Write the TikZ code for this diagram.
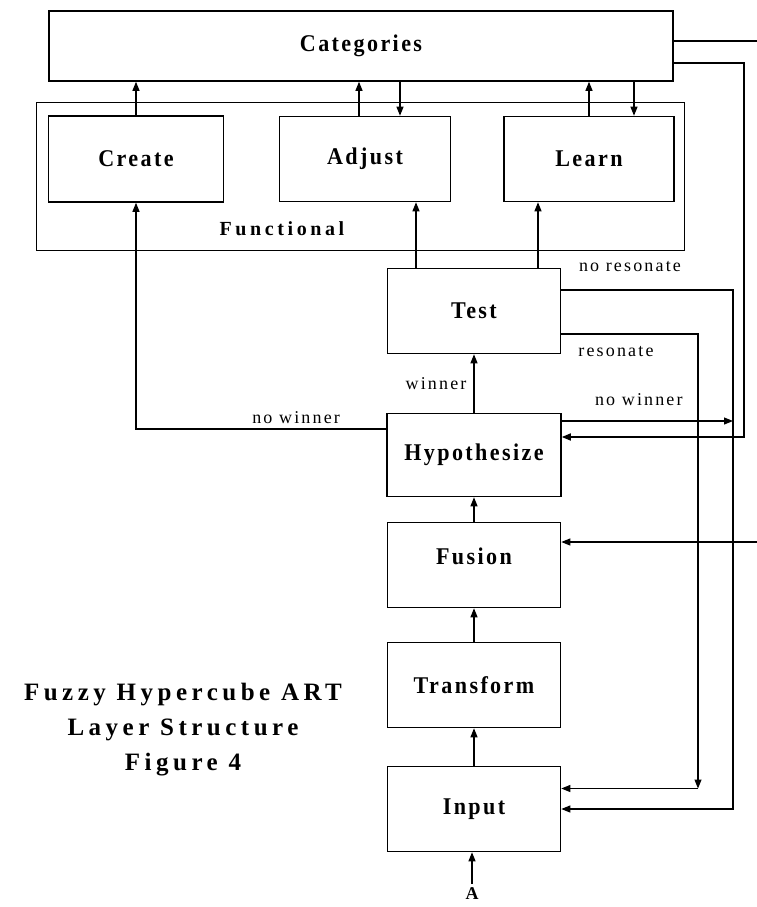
\documentclass[tikz,border=0pt]{standalone}
\usepackage{fontspec}
\setmainfont{Liberation Serif}
\newfontfamily\layerfont[FakeStretch=0.92,LetterSpace=10]{Liberation Serif}
\newfontfamily\titlefont[LetterSpace=18]{Liberation Serif}
\newfontfamily\labelfont[LetterSpace=12]{Liberation Serif}
\usetikzlibrary{arrows.meta, positioning}

\begin{document}
\begin{tikzpicture}[->, >={Triangle[length=9pt,width=7pt]}, x=1pt, y=1pt, on grid, line width=1.1pt]
      \tikzstyle{layer}=[draw, line width=1.6pt, minimum width=173pt, minimum height=85pt, inner sep=0pt, font=\layerfont\bfseries\fontsize{24}{28}\selectfont]
      \tikzstyle{tag}=[inner sep=0pt, font=\labelfont\fontsize{18}{22}\selectfont]
      \useasboundingbox (0,0) rectangle (757,-907);
      \node[layer, minimum width=624pt, minimum height=70pt] (cat) at (361,-46) {Categories};
      \node[draw, line width=0.8pt, minimum width=648pt, minimum height=148pt] (func) at (360,-176) {};
      \node[inner sep=0pt, font=\titlefont\bfseries\fontsize{20}{24}\selectfont] (functag) at (282,-229) {Functional};
      \node[layer, minimum width=175pt, minimum height=86pt] (create) at (136,-159) {Create};
      \node[layer, minimum width=171pt, text height=17pt, text depth=6pt] (adjust) [right=229pt of create] {Adjust};
      \node[layer, minimum width=170pt] (learn) [right=224pt of adjust] {Learn};
      \node[layer] (test) at (474,-311) {Test};
      \node[layer, minimum width=174pt, minimum height=83pt] (hyp) [below=144pt of test] {Hypothesize};
      \node[layer, text height=17pt, text depth=18pt] (fusion) [below=110pt of hyp] {Fusion};
      \node[layer] (transform) [below=120pt of fusion] {Transform};
      \node[layer] (input) [below=124pt of transform] {Input};
      \node[inner sep=1pt, font=\bfseries\fontsize{18}{20}\selectfont] (a) at (472,-894) {A};
      \node[align=center, font=\titlefont\bfseries\fontsize{25}{35}\selectfont] (title) at (183,-730) {Fuzzy Hypercube ART\\Layer Structure\\Figure 4};
      \coordinate (nr) at (733,-290);
      \coordinate (rs) at (698,-334);
      \coordinate (ct) at (744,-63);
      \coordinate (te) at (757,-41);
      \coordinate (fe) at (757,-542);
      \coordinate (rsin) at ([yshift=20.5pt]input.east);
      \coordinate (hypin) at ([yshift=18pt]hyp.east);
      \draw (create.north) -- (create.north |- cat.south);
      \draw ([xshift=-6pt]adjust.north) -- ([xshift=-6pt]adjust.north |- cat.south);
      \draw ([xshift=35pt]adjust.north |- cat.south) -- ([xshift=35pt]adjust.north);
      \draw (learn.north) -- (learn.north |- cat.south);
      \draw ([xshift=45pt]learn.north |- cat.south) -- ([xshift=45pt]learn.north);
      \draw ([xshift=-58pt]test.north) -- ([xshift=-58pt]test.north |- adjust.south);
      \draw ([xshift=64pt]test.north) -- ([xshift=64pt]test.north |- learn.south);
      \draw (hyp) -- node[tag, left=7pt] {winner} (test);
      \draw ([yshift=26pt]hyp.west) -| node[tag, above=5pt, pos=0.18] {no winner} (create.south);
      \draw ([yshift=34pt]hyp.east) -- node[tag, above=15pt, pos=0.45] {no winner} ([yshift=34pt]hyp.east -| nr);
      \draw (test.east |- nr) -- node[tag, above=18pt, pos=0.4] {no resonate} (nr) |- (input.east);
      \draw (test.east |- rs) -- node[tag, below=12pt, pos=0.4] {resonate} (rs) -- (rs |- rsin);
      \draw (rs |- rsin) -- (rsin);
      \draw[line width=1.6pt] (cat.east |- ct) -- (ct) |- (hypin);
      \draw[-, line width=2pt] (cat.east |- te) -- (te);
      \draw (fe) -- (fusion.east |- fe);
      \draw (fusion) -- (hyp);
      \draw (transform) -- (fusion);
      \draw (input) -- (transform);
      \draw[shorten <=3pt] (a.north) -- (a.north |- input.south);
    \end{tikzpicture}
\end{document}
